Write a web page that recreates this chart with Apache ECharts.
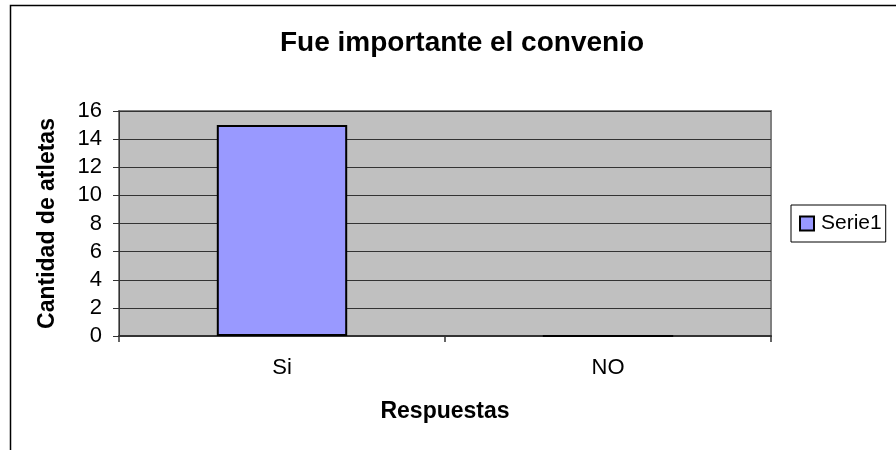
<!DOCTYPE html>
<html>
<head>
<meta charset="utf-8">
<script src="https://cdn.jsdelivr.net/npm/echarts@6/dist/echarts.min.js"></script>
<style>
html,body{margin:0;padding:0;background:#fff;}
#chart{width:896px;height:450px;}
</style>
</head>
<body>
<div id="chart"></div>
<script>
const categories = ['Si', 'NO'];
const serie1 = [15, 0];
const seriesName = 'Serie1';
const titleText = 'Fue importante el convenio';
const xAxisTitle = 'Respuestas';
const yAxisTitle = 'Cantidad de atletas';

const FONT = "'Liberation Sans', Arial, sans-serif";
const chart = echarts.init(document.getElementById('chart'), null, {renderer: 'canvas'});
chart.setOption({
  backgroundColor: '#ffffff',
  animation: false,
  title: {
    text: titleText,
    left: 457,
    textAlign: 'center',
    top: 24,
    textStyle: {fontFamily: FONT, fontSize: 28, fontWeight: 'bold', color: '#000'}
  },
  legend: {
    left: 791,
    top: 205,
    orient: 'vertical',
    padding: [8, 4, 8, 8],
    borderColor: '#000',
    borderWidth: 1,
    itemWidth: 14,
    itemHeight: 14,
    icon: 'rect',
    textStyle: {fontFamily: FONT, fontSize: 21, color: '#000', padding: [0, 0, 0, 2]},
    data: [seriesName]
  },
  graphic: [{
    type: 'rect',
    shape: {x: 10.5, y: 5.5, width: 1000, height: 600},
    style: {fill: 'none', stroke: '#000', lineWidth: 1.5},
    silent: true,
    z: 100
  }],
  grid: {
    left: 119, top: 111, right: 125, bottom: 114,
    show: true,
    backgroundColor: '#C0C0C0',
    borderColor: '#808080',
    borderWidth: 2
  },
  xAxis: {
    type: 'category',
    data: categories,
    name: xAxisTitle,
    nameLocation: 'middle',
    nameGap: 64,
    nameTextStyle: {fontFamily: FONT, fontSize: 23, fontWeight: 'bold', color: '#000'},
    axisLine: {show: true, lineStyle: {color: '#333', width: 2}},
    axisTick: {show: true, alignWithLabel: false, length: 6, lineStyle: {color: '#333', width: 1.5}},
    axisLabel: {fontFamily: FONT, fontSize: 22, color: '#000', margin: 21},
    splitLine: {show: false}
  },
  yAxis: {
    type: 'value',
    min: 0, max: 16, interval: 2,
    name: yAxisTitle,
    nameLocation: 'middle',
    nameGap: 60,
    nameTextStyle: {fontFamily: FONT, fontSize: 23, fontWeight: 'bold', color: '#000'},
    axisLine: {show: true, lineStyle: {color: '#333', width: 1}},
    axisTick: {show: true, length: 6, lineStyle: {color: '#333', width: 1}},
    axisLabel: {fontFamily: FONT, fontSize: 22, color: '#000', margin: 17},
    splitLine: {show: true, lineStyle: {color: '#333', width: 1}}
  },
  series: [{
    name: seriesName,
    type: 'bar',
    data: serie1,
    barWidth: '40%',
    itemStyle: {color: '#9999FF', borderColor: '#000', borderWidth: 2}
  }]
});
</script>
</body>
</html>
